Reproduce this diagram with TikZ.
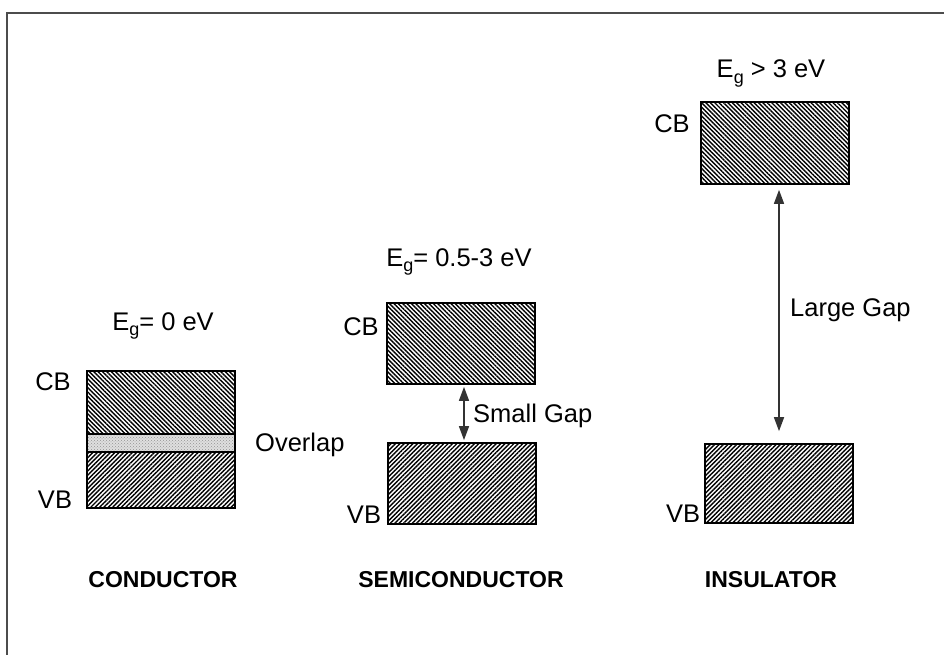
\documentclass[tikz,border=0pt]{standalone}
\usepackage{fontspec}
\setmainfont{Liberation Sans}
\usetikzlibrary{patterns,patterns.meta,arrows.meta,calc}
\newcommand\gsub[1]{\raisebox{-5.5pt}{\fontsize{18}{18}\selectfont #1}}
\begin{document}
\begin{tikzpicture}[x=1pt,y=-1pt,
  band/.style={draw=black, line width=1.7pt, rectangle, inner sep=0pt, minimum width=148pt},
  cbhatch/.style={pattern={Lines[angle=-45, distance=3.1pt, line width=1.4pt]}},
  vbhatch/.style={pattern={Lines[angle=45, distance=3.1pt, line width=1.4pt]}},
  ovhatch/.style={preaction={fill=gray!25}, pattern=crosshatch dots, pattern color=gray!85},
  lbl/.style={anchor=base, inner sep=0pt, font=\fontsize{25.5}{30}\selectfont},
  lblw/.style={anchor=base west, inner sep=0pt, font=\fontsize{25.5}{30}\selectfont},
  title/.style={anchor=base, inner sep=0pt, font=\fontsize{23}{28}\selectfont\bfseries},
  arr/.style={{Triangle[length=14pt,width=10pt]}-{Triangle[length=14pt,width=10pt]}, line width=1.5pt, draw=black!80}]
\useasboundingbox (0,0) rectangle (944,655);
\draw[draw=gray!60!black, line width=2pt] (7,655) -- (7,13) -- (944,13);

% Conductor
\node[band, cbhatch, minimum height=63pt] (ccb) at (161,402.5) {};
\node[band, ovhatch, minimum height=18pt] (cov) at (161,443) {};
\node[band, vbhatch, minimum height=56pt] (cvb) at (161,480) {};
\node[lbl] (ceg) at (163,330) {E\gsub{g}= 0 eV};
\node[lbl] (ccbl) at (53,390) {CB};
\node[lbl] (cvbl) at (55,508) {VB};
\node[lblw] (covl) at (255,451) {Overlap};
\node[title] (ct) at (163,587) {CONDUCTOR};

% Semiconductor
\node[band, cbhatch, minimum height=81pt] (scb) at (461,343.5) {};
\node[band, vbhatch, minimum height=81pt] (svb) at (462,483.5) {};
\node[lbl] (seg) at (459,266) {E\gsub{g}= 0.5-3 eV};
\node[lbl] (scbl) at (361,335) {CB};
\node[lbl] (svbl) at (364,523) {VB};
\draw[arr, shorten <=2pt, shorten >=2pt] ([xshift=3pt]scb.south) -- ([xshift=3pt]scb.south |- svb.north);
\node[lblw] (sgap) at (473,422) {Small Gap};
\node[title] (st) at (461,587) {SEMICONDUCTOR};

% Insulator
\node[band, cbhatch, minimum height=82pt] (icb) at (775,143) {};
\node[band, vbhatch, minimum height=79pt] (ivb) at (779,483.5) {};
\node[lbl] (ieg) at (771,78) {E\gsub{g} > 3 eV};
\node[lbl] (icbl) at (672,133) {CB};
\node[lbl] (ivbl) at (683,522) {VB};
\draw[arr, shorten <=5pt, shorten >=12pt] ([xshift=4pt]icb.south) -- ([xshift=4pt]icb.south |- ivb.north);
\node[lblw] (igap) at (790,316) {Large Gap};
\node[title] (it) at (771,587) {INSULATOR};
\end{tikzpicture}
\end{document}
